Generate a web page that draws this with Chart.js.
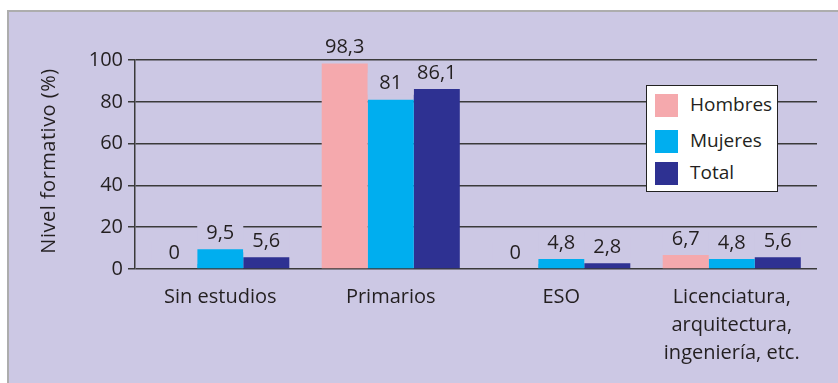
<!DOCTYPE html>
<html>
<head>
<meta charset="utf-8">
<script src="https://cdn.jsdelivr.net/npm/chart.js@4"></script>
<style>
  html, body { margin: 0; padding: 0; background: #fff; }
  #wrap { position: relative; width: 838px; height: 383px; overflow: hidden; font-family: "Open Sans", sans-serif; }
  #panel { position: absolute; left: 7px; top: 10px; right: 0; bottom: 0; background: #ccc8e4; border-top: 2px solid #adadad; border-left: 2px solid #adadad; }
  canvas { position: absolute; left: 0; top: 0; }
  #legend { position: absolute; left: 646px; top: 85px; width: 130px; height: 105px; background: #fff; border: 1.5px solid #222; }
  .item { position: absolute; left: 8px; height: 23px; }
  .sw { position: absolute; left: 0; top: 0; width: 23px; height: 23px; }
  .lab { position: absolute; left: 35px; top: -1px; font-size: 19px; line-height: 23px; color: #231f20; white-space: nowrap; }
</style>
</head>
<body>
<div id="wrap">
  <div id="panel"></div>
  <canvas id="chart" width="838" height="383"></canvas>
  <div id="legend"></div>
</div>
<script>
const categories = ["Sin estudios", "Primarios", "ESO", ["Licenciatura,", "arquitectura,", "ingeniería, etc."]];
const hombres = [0, 98.3, 0, 6.7];
const mujeres = [9.5, 81, 4.8, 4.8];
const total = [5.6, 86.1, 2.8, 5.6];
const seriesNames = ["Hombres", "Mujeres", "Total"];
const seriesColors = ["#f5a9ad", "#00aeef", "#2e3192"];
const yTicks = [0, 20, 40, 60, 80, 100];

const bg = "#ccc8e4";
const ink = "#231f20";

// value labels above the bars, with a background box that breaks the gridlines
const valueLabels = {
  id: "valueLabels",
  afterDatasetsDraw(chart) {
    const ctx = chart.ctx;
    ctx.save();
    ctx.font = "20px 'Open Sans', sans-serif";
    ctx.textAlign = "center";
    ctx.textBaseline = "middle";
    chart.data.datasets.forEach((ds, i) => {
      chart.getDatasetMeta(i).data.forEach((bar, j) => {
        const y = bar.y - 16;
        ctx.fillStyle = bg;
        ctx.fillRect(bar.x - bar.width / 2, y - 11, bar.width, 22);
        ctx.fillStyle = ink;
        ctx.fillText(String(ds.data[j]).replace(".", ","), bar.x, y);
      });
    });
    ctx.restore();
  }
};

const yTitle = {
  id: "yTitle",
  afterDraw(chart) {
    const ctx = chart.ctx;
    ctx.save();
    ctx.translate(49, 161);
    ctx.rotate(-Math.PI / 2);
    ctx.font = "20px 'Open Sans', sans-serif";
    ctx.letterSpacing = "0.5px";
    ctx.fillStyle = ink;
    ctx.textAlign = "center";
    ctx.textBaseline = "middle";
    ctx.fillText("Nivel formativo (%)", 0, 0);
    ctx.restore();
  }
};

new Chart(document.getElementById("chart"), {
  type: "bar",
  data: {
    labels: categories,
    datasets: [hombres, mujeres, total].map((d, i) => ({
      label: seriesNames[i],
      data: d,
      backgroundColor: seriesColors[i],
      barPercentage: 1,
      categoryPercentage: 0.81
    }))
  },
  options: {
    responsive: false,
    animation: false,
    layout: { padding: { top: 60, right: 21, left: 0, bottom: 0 } },
    plugins: { legend: { display: false }, tooltip: { enabled: false } },
    scales: {
      x: {
        grid: { display: false, drawTicks: false },
        border: { display: false },
        ticks: { color: ink, font: { family: "'Open Sans', sans-serif", size: 20, lineHeight: 1.4 }, padding: 14, maxRotation: 0 },
        afterFit: s => { s.height = 114; }
      },
      y: {
        min: 0,
        max: 100,
        afterBuildTicks: s => { s.ticks = yTicks.map(v => ({ value: v })); },
        grid: { color: "#3a3a3a", lineWidth: 1.5, tickLength: 7 },
        border: { color: "#3a3a3a", width: 1.5 },
        ticks: { color: ink, font: { family: "'Open Sans', sans-serif", size: 20 }, padding: 5 },
        afterFit: s => { s.width = 135; }
      }
    }
  },
  plugins: [valueLabels, yTitle]
});

const legend = document.getElementById("legend");
const rowTops = [8, 44, 76];
seriesNames.forEach((name, i) => {
  const item = document.createElement("div");
  item.className = "item";
  item.style.top = rowTops[i] + "px";
  item.innerHTML = '<div class="sw" style="background:' + seriesColors[i] + '"></div><div class="lab">' + name + "</div>";
  legend.appendChild(item);
});
</script>
</body>
</html>
